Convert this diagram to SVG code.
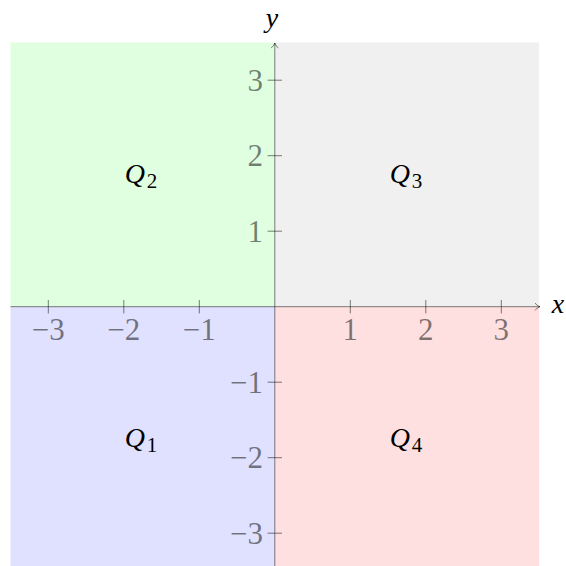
<svg xmlns="http://www.w3.org/2000/svg" width="566" height="566" viewBox="0 0 566 566">
<style>
.tick{stroke:#000;stroke-opacity:0.5;stroke-width:1}
.axis{stroke:#000;stroke-opacity:0.5;stroke-width:1;fill:none}
text{font-family:'Times New Roman',Tinos,'Liberation Serif','DejaVu Serif',serif}
.tl{font-size:31px;fill:#000;fill-opacity:0.5}
.q{font-size:28px;font-style:italic;fill:#000}
.sub{font-style:normal;font-size:21px}
.al{font-size:28px;font-style:italic;fill:#000}
</style>
<rect width="566" height="566" fill="#fff"/>
<g id="q2"><rect x="10.5" y="42.4" width="264.3" height="264.3" fill="#e0ffe0"/><text class="q" x="141" y="183" text-anchor="middle">Q<tspan class="sub" dx="2" dy="5">2</tspan></text></g>
<g id="q3"><rect x="274.8" y="42.4" width="264.3" height="264.3" fill="#f0f0f0"/><text class="q" x="406" y="183" text-anchor="middle">Q<tspan class="sub" dx="2" dy="5">3</tspan></text></g>
<g id="q1"><rect x="10.5" y="306.7" width="264.3" height="264.3" fill="#e0e0ff"/><text class="q" x="141" y="447" text-anchor="middle">Q<tspan class="sub" dx="2" dy="5">1</tspan></text></g>
<g id="q4"><rect x="274.8" y="306.7" width="264.3" height="264.3" fill="#ffe0e0"/><text class="q" x="406" y="447" text-anchor="middle">Q<tspan class="sub" dx="2" dy="5">4</tspan></text></g>
<g id="axes">
<line class="axis" x1="10.5" y1="306.7" x2="540" y2="306.7"/>
<path class="axis" d="M535 303 Q537 306 540 306.7 Q537 307.4 535 310.4"/>
<line class="axis" x1="274.8" y1="566" x2="274.8" y2="43"/>
<path class="axis" d="M271.1 48 Q274 46 274.8 43 Q275.5 46 278.5 48"/>
<g id="xticks">
<line class="tick" x1="48.3" y1="300" x2="48.3" y2="313.4"/>
<line class="tick" x1="123.8" y1="300" x2="123.8" y2="313.4"/>
<line class="tick" x1="199.3" y1="300" x2="199.3" y2="313.4"/>
<line class="tick" x1="350.3" y1="300" x2="350.3" y2="313.4"/>
<line class="tick" x1="425.8" y1="300" x2="425.8" y2="313.4"/>
<line class="tick" x1="501.3" y1="300" x2="501.3" y2="313.4"/>
</g>
<g id="yticks">
<line class="tick" x1="267.6" y1="80.2" x2="282" y2="80.2"/>
<line class="tick" x1="267.6" y1="155.7" x2="282" y2="155.7"/>
<line class="tick" x1="267.6" y1="231.2" x2="282" y2="231.2"/>
<line class="tick" x1="267.6" y1="382.2" x2="282" y2="382.2"/>
<line class="tick" x1="267.6" y1="457.7" x2="282" y2="457.7"/>
<line class="tick" x1="267.6" y1="533.2" x2="282" y2="533.2"/>
</g>
<g id="xlabels">
<text class="tl" x="48.3" y="340" text-anchor="middle">−3</text>
<text class="tl" x="123.8" y="340" text-anchor="middle">−2</text>
<text class="tl" x="199.3" y="340" text-anchor="middle">−1</text>
<text class="tl" x="350.3" y="340" text-anchor="middle">1</text>
<text class="tl" x="425.8" y="340" text-anchor="middle">2</text>
<text class="tl" x="501.3" y="340" text-anchor="middle">3</text>
</g>
<g id="ylabels">
<text class="tl" x="263" y="90.7" text-anchor="end">3</text>
<text class="tl" x="263" y="166.2" text-anchor="end">2</text>
<text class="tl" x="263" y="241.7" text-anchor="end">1</text>
<text class="tl" x="263" y="392.7" text-anchor="end">−1</text>
<text class="tl" x="263" y="468.2" text-anchor="end">−2</text>
<text class="tl" x="263" y="543.7" text-anchor="end">−3</text>
</g>
<text class="al" x="558" y="313" text-anchor="middle">x</text>
<text class="al" x="272" y="27" text-anchor="middle">y</text>
</g>
</svg>
